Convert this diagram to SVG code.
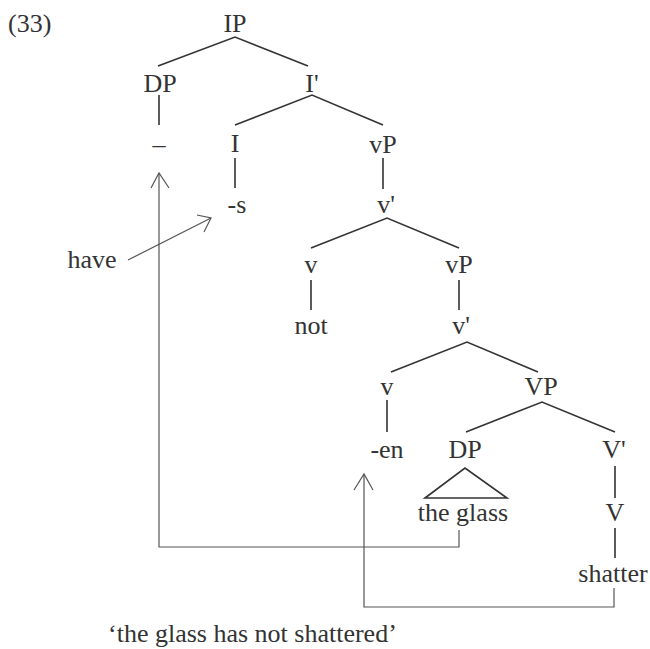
<svg xmlns="http://www.w3.org/2000/svg" width="650" height="649" viewBox="0 0 650 649">
<style>
.t{font-family:'Liberation Serif','Times New Roman',serif;font-size:26px;fill:#333}
.e{stroke:#333;stroke-width:1.6;fill:none}
.a{stroke:#555;stroke-width:1.2;fill:none}
</style>
<rect width="650" height="649" fill="#fff"/>
<g id="connectors">
<path class="e" d="M158,66 L235,37 L308,66"/>
<path class="e" d="M235,125 L312,95 L383,125"/>
<path class="e" d="M159,95 V125"/>
<path class="e" d="M235,158 V188"/>
<path class="e" d="M383,158 V189"/>
<path class="e" d="M311,248 L387,218 L459,248"/>
<path class="e" d="M311,280 V310"/>
<path class="e" d="M459,280 V310"/>
<path class="e" d="M391,372 L467,342 L538,372"/>
<path class="e" d="M387,400 V432"/>
<path class="e" d="M466,432 L542,402 L615,432"/>
<path class="e" d="M425,498 L465,468 L507,498 Z"/>
<path class="e" d="M615,466 V498"/>
<path class="e" d="M615,528 V558"/>
<path class="a" d="M459,530 V547 H159 V173"/>
<path class="a" d="M151,188 L159,173 L169,188"/>
<path class="a" d="M614,588 V607 H364 V474"/>
<path class="a" d="M354,490 L364,474 L373,490"/>
<path class="a" d="M128,260 L211,218"/>
<path class="a" d="M197,215 L211,218 L204,232"/>
</g>
<g class="t" text-anchor="middle">
<text x="8" y="32" text-anchor="start">(33)</text>
<g id="IP"><text x="235" y="32">IP</text></g>
<g id="DP1"><text x="160" y="92">DP</text></g>
<g id="Ibar"><text x="312" y="92">I'</text></g>
<g id="dash"><text x="159" y="153">–</text></g>
<g id="I"><text x="235" y="152">I</text></g>
<g id="vP1"><text x="383" y="153">vP</text></g>
<g id="s"><text x="237" y="213">-s</text></g>
<g id="vbar1"><text x="386" y="213">v'</text></g>
<g id="have"><text x="92" y="268">have</text></g>
<g id="v1"><text x="311" y="273">v</text></g>
<g id="vP2"><text x="459" y="273">vP</text></g>
<g id="not"><text x="311" y="334">not</text></g>
<g id="vbar2"><text x="461" y="334">v'</text></g>
<g id="v2"><text x="387" y="395">v</text></g>
<g id="VP"><text x="541" y="395">VP</text></g>
<g id="en"><text x="387" y="458">-en</text></g>
<g id="DP2"><text x="465" y="458">DP</text></g>
<g id="Vbar"><text x="614" y="458">V'</text></g>
<g id="theglass"><text x="463" y="521">the glass</text></g>
<g id="V"><text x="615" y="521">V</text></g>
<g id="shatter"><text x="613" y="582">shatter</text></g>
<text x="108" y="642" text-anchor="start">‘the glass has not shattered’</text>
</g>
</svg>
